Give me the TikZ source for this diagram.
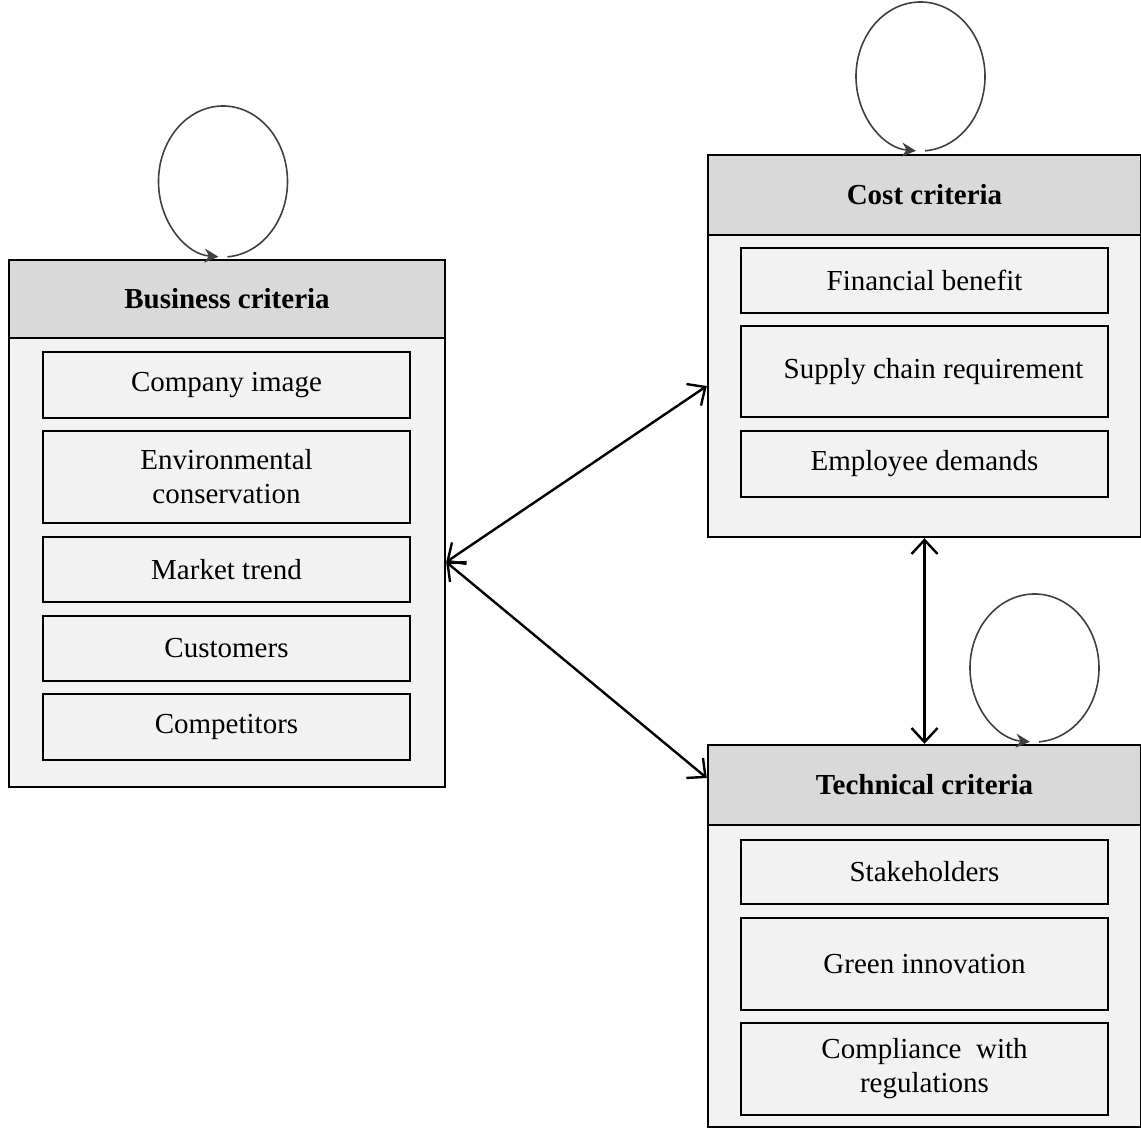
\documentclass[tikz,border=0pt]{standalone}
\usepackage{fontspec}
\setmainfont{Liberation Serif}
\usetikzlibrary{arrows.meta}
\definecolor{headgray}{HTML}{D9D9D9}
\definecolor{bodygray}{HTML}{F2F2F2}
\definecolor{loopgray}{HTML}{404040}
\tikzset{
  groupbox/.style={draw=black,fill=bodygray,line width=2.4pt,inner sep=0pt},
  headbox/.style={draw=black,fill=headgray,line width=2.4pt,inner sep=0pt,
    font=\fontsize{29}{34}\selectfont\bfseries},
  itembox/.style={draw=black,fill=bodygray,line width=2.4pt,inner sep=0pt,
    minimum width=367pt,align=center},
  twoway/.style={line width=2.4pt,{Straight Barb[length=14pt,width=26pt]}-{Straight Barb[length=14pt,width=26pt]}},
  selfloop/.style={draw=loopgray,line width=1.6pt,-{Stealth[length=14pt,width=14pt]}}
}
\begin{document}
\begin{tikzpicture}[x=1pt,y=1pt,font=\fontsize{29}{34}\selectfont]
\useasboundingbox (0,0) rectangle (1141,-1128);
\clip (0,0) rectangle (1141,-1128);
% Business criteria
\node[groupbox,minimum width=436pt,minimum height=527pt] (bus) at (227,-523.5) {};
\node[headbox,minimum width=436pt,minimum height=78pt] (bushead) at (227,-299) {Business criteria};
\node[itembox,minimum height=66pt] (img) at (226.5,-385) {Company image};
\node[itembox,minimum height=92pt] (env) at (226.5,-477) {Environmental\\conservation};
\node[itembox,minimum height=65pt] (mkt) at (226.5,-569.5) {Market trend};
\node[itembox,minimum height=65pt] (cus) at (226.5,-648.5) {Customers};
\node[itembox,minimum height=66pt] (comp) at (226.5,-727) {Competitors};
% Cost criteria
\node[groupbox,minimum width=433pt,minimum height=382pt] (cost) at (924.5,-346) {};
\node[headbox,minimum width=433pt,minimum height=80pt] (costhead) at (924.5,-195) {Cost criteria};
\node[itembox,minimum height=65pt] (fin) at (924.5,-280.5) {Financial benefit};
\node[itembox,minimum height=91pt] (sup) at (924.5,-371.5) {\hspace{18pt}Supply chain requirement};
\node[itembox,minimum height=66pt] (emp) at (924.5,-464) {Employee demands};
% Technical criteria
\node[groupbox,minimum width=433pt,minimum height=382pt] (tech) at (924.5,-936) {};
\node[headbox,minimum width=433pt,minimum height=80pt] (techhead) at (924.5,-785) {Technical criteria};
\node[itembox,minimum height=64pt] (stk) at (924.5,-872) {Stakeholders};
\node[itembox,minimum height=92pt] (grn) at (924.5,-964) {Green innovation};
\node[itembox,minimum height=92pt] (cmp) at (924.5,-1069) {Compliance\ \ with\\regulations};
% links between groups
\draw[twoway] ([yshift=-38.5pt]bus.east) -- ([yshift=-40pt]cost.west);
\draw[twoway] ([yshift=-38.5pt]bus.east) -- ([yshift=158pt]tech.west);
\draw[twoway] (cost.south) -- (tech.north);
% self loops
\draw[selfloop] (bus.north) ++(0.5,2) arc[start angle=-86,end angle=266,x radius=64.5,y radius=75.5];
\draw[selfloop] (cost.north) ++(0.5,3) arc[start angle=-86,end angle=266,x radius=64.5,y radius=74.5];
\draw[selfloop] (tech.north) ++(114.5,2) arc[start angle=-86,end angle=266,x radius=64.5,y radius=74];
\end{tikzpicture}
\end{document}
